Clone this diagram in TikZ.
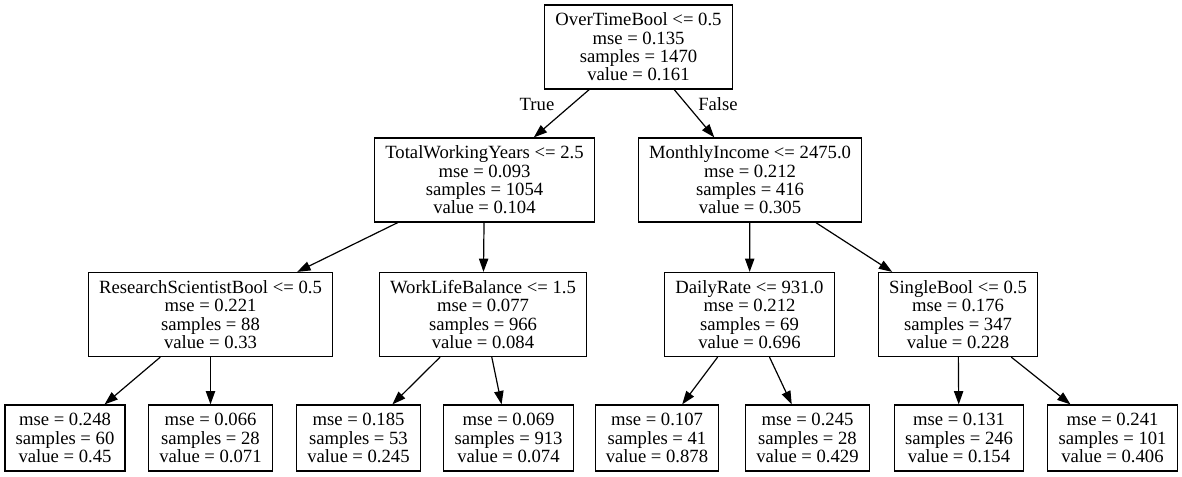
\documentclass[tikz,border=0pt]{standalone}
\usepackage{fontspec}
\setmainfont{Liberation Serif}
\usetikzlibrary{arrows.meta}

\tikzset{
  split/.style={rectangle,draw,line width=0.9pt,align=center,inner xsep=8pt,
    minimum height=63pt,font=\fontsize{14pt}{13.8pt}\selectfont},
  leaf/.style={split,minimum height=49.5pt},
  lbl/.style={inner sep=0pt,font=\fontsize{14pt}{13.8pt}\selectfont}
}

\begin{document}
\begin{tikzpicture}[x=0.75pt,y=-0.75pt,>={Triangle[length=10pt,width=7pt]}]
    \useasboundingbox (0,0) rectangle (1182,477);
    \node[split](root) at (638.5,47) {OverTimeBool <= 0.5\\mse = 0.135\\samples = 1470\\value = 0.161};
    \node[split](twy) at (484.5,180) {TotalWorkingYears <= 2.5\\mse = 0.093\\samples = 1054\\value = 0.104};
    \node[split](mi) at (750,180) {MonthlyIncome <= 2475.0\\mse = 0.212\\samples = 416\\value = 0.305};
    \node[split](rsb) at (210.5,314.5) {ResearchScientistBool <= 0.5\\mse = 0.221\\samples = 88\\value = 0.33};
    \node[split](wlb) at (483,314.5) {WorkLifeBalance <= 1.5\\mse = 0.077\\samples = 966\\value = 0.084};
    \node[split](dr) at (749.5,314.5) {DailyRate <= 931.0\\mse = 0.212\\samples = 69\\value = 0.696};
    \node[split](sb) at (958,314.5) {SingleBool <= 0.5\\mse = 0.176\\samples = 347\\value = 0.228};
    \node[leaf](l1) at (65,438) {mse = 0.248\\samples = 60\\value = 0.45};
    \node[leaf](l2) at (210.5,438) {mse = 0.066\\samples = 28\\value = 0.071};
    \node[leaf](l3) at (358.5,438) {mse = 0.185\\samples = 53\\value = 0.245};
    \node[leaf](l4) at (508.5,438) {mse = 0.069\\samples = 913\\value = 0.074};
    \node[leaf](l5) at (657,438) {mse = 0.107\\samples = 41\\value = 0.878};
    \node[leaf](l6) at (807.5,438) {mse = 0.245\\samples = 28\\value = 0.429};
    \node[leaf](l7) at (959,438) {mse = 0.131\\samples = 246\\value = 0.154};
    \node[leaf](l8) at (1112.5,438) {mse = 0.241\\samples = 101\\value = 0.406};
    \node[lbl](truelbl) at (537,104) {True};
    \node[lbl](falselbl) at (718,104) {False};
    \path[->,line width=0.9pt](root) edge (twy)
                edge (mi)
            (twy) edge (rsb)
                edge (wlb)
            (mi) edge (dr)
                edge (sb)
            (rsb) edge (l1)
                edge (l2)
            (wlb) edge (l3)
                edge (l4)
            (dr) edge (l5)
                edge (l6)
            (sb) edge (l7)
                edge (l8);
\end{tikzpicture}
\end{document}
